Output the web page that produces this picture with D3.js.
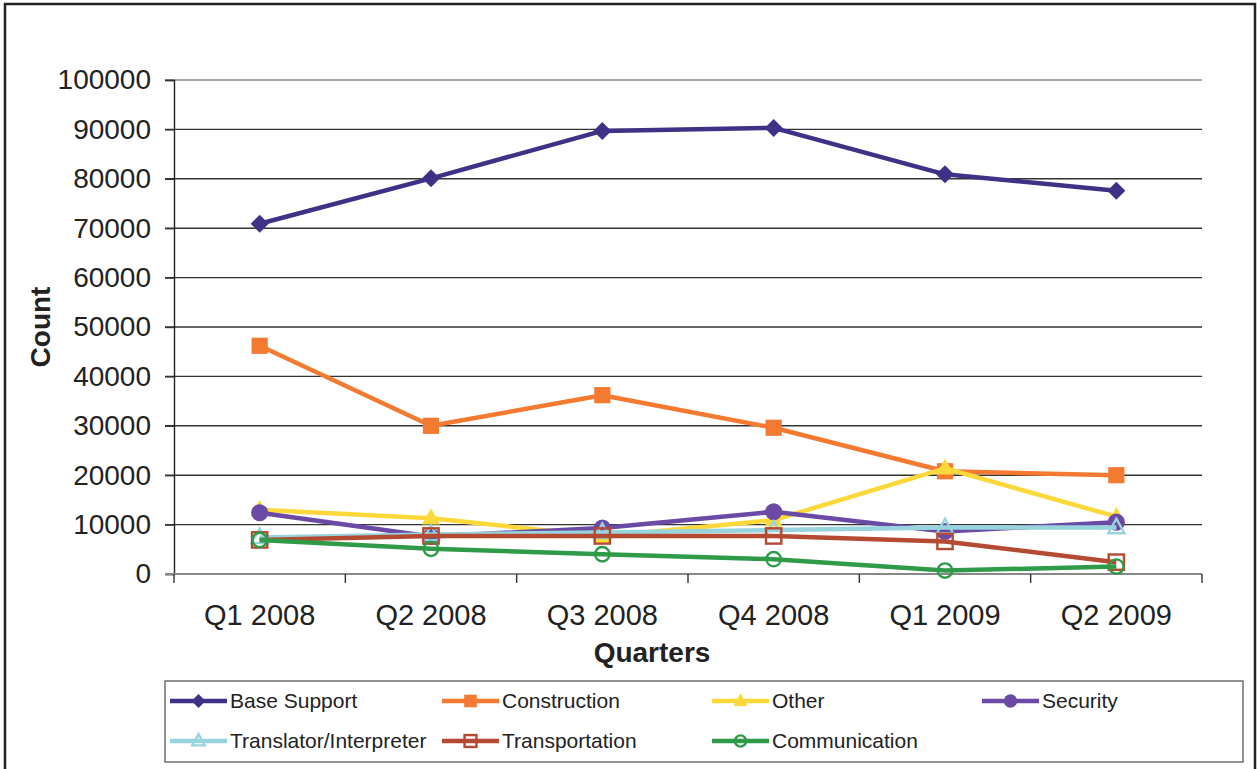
<!DOCTYPE html>
<html><head><meta charset="utf-8">
<script src="https://cdn.jsdelivr.net/npm/d3@7"></script>
<style>body{margin:0;background:#fff;}svg{display:block;font-family:"Liberation Sans",Arial,sans-serif;}</style>
</head><body>
<script>
const categories = ["Q1 2008","Q2 2008","Q3 2008","Q4 2008","Q1 2009","Q2 2009"];
const yTicks = [0,10000,20000,30000,40000,50000,60000,70000,80000,90000,100000];
const baseSupport = [70900, 80100, 89700, 90300, 80900, 77600];
const construction = [46200, 30000, 36200, 29600, 20800, 20000];
const other = [13000, 11300, 7600, 10900, 21400, 11600];
const security = [12400, 7600, 9300, 12600, 8600, 10500];
const translator = [7400, 8000, 8400, 8900, 9400, 9400];
const transportation = [6900, 7700, 7700, 7700, 6600, 2400];
const communication = [6900, 5100, 4000, 3000, 700, 1500];

const series = [
  {name:"Base Support", values:baseSupport, color:"#3e3287", marker:"diamond", fill:true},
  {name:"Construction", values:construction, color:"#f47a32", marker:"square", fill:true},
  {name:"Other", values:other, color:"#fdd83a", marker:"triangle", fill:true},
  {name:"Security", values:security, color:"#6a4aa4", marker:"circle", fill:true},
  {name:"Translator/Interpreter", values:translator, color:"#98d4dd", marker:"triangle", fill:false},
  {name:"Transportation", values:transportation, color:"#b54a33", marker:"square", fill:false},
  {name:"Communication", values:communication, color:"#2f9a48", marker:"circle", fill:false}
];

const W=1257,H=769;
const svg=d3.select("body").append("svg").attr("width",W).attr("height",H);
svg.append("rect").attr("x",5).attr("y",4).attr("width",1250).attr("height",800)
  .attr("fill","none").attr("stroke","#222").attr("stroke-width",2.5);

const pLeft=174,pRight=1202,pTop=80,pBottom=574;
const x=d3.scaleBand().domain(categories).range([pLeft,pRight]);
const y=d3.scaleLinear().domain([0,100000]).range([pBottom,pTop]);

// gridlines
svg.append("g").selectAll("line").data(yTicks.filter(d=>d>0)).join("line")
  .attr("x1",pLeft-9).attr("x2",pRight).attr("y1",d=>y(d)).attr("y2",d=>y(d))
  .attr("stroke",d=>d===100000?"#888":"#333").attr("stroke-width",1.4);

// y axis
const yAxis=svg.append("g").attr("transform",`translate(${pLeft},0)`)
  .call(d3.axisLeft(y).tickValues(yTicks).tickSize(9).tickPadding(14).tickFormat(d3.format("d")));
yAxis.select(".domain").attr("stroke","#222").attr("stroke-width",1.4);
yAxis.selectAll(".tick line").attr("stroke","#333").attr("stroke-width",1.4);
yAxis.selectAll("text").attr("font-size",28).attr("fill","#222");

// x axis
const xAxis=svg.append("g").attr("transform",`translate(0,${pBottom})`)
  .call(d3.axisBottom(x).tickSize(0).tickPadding(30));
xAxis.select(".domain").remove();
xAxis.selectAll("text").attr("font-size",29).attr("fill","#222");
svg.append("line").attr("x1",pLeft-9).attr("x2",pRight).attr("y1",pBottom).attr("y2",pBottom)
  .attr("stroke","#888").attr("stroke-width",2.2);
const bounds=categories.map(c=>x(c)).concat([pRight]);
svg.append("g").selectAll("line").data(bounds).join("line")
  .attr("x1",d=>d).attr("x2",d=>d).attr("y1",pBottom).attr("y2",pBottom+9)
  .attr("stroke","#333").attr("stroke-width",1.4);

svg.append("text").attr("x",652).attr("y",662).attr("text-anchor","middle")
  .attr("font-size",28).attr("font-weight","bold").attr("fill","#222").text("Quarters");
svg.append("text").attr("transform","translate(50,327) rotate(-90)").attr("text-anchor","middle")
  .attr("font-size",28).attr("font-weight","bold").attr("fill","#222").text("Count");

const cx=c=>x(c)+x.bandwidth()/2;
const line=d3.line().x((d,i)=>cx(categories[i])).y(d=>y(d));

function drawMarker(g,type,color,fill,px,py,s){
  const fc=fill?color:"none";
  const sw=fill?0:2.4;
  if(type==="diamond"){
    g.append("path").attr("d",`M${px},${py-s}L${px+s},${py}L${px},${py+s}L${px-s},${py}Z`).attr("fill",color);
  } else if(type==="square"){
    const h=fill?s*0.9:s*0.85;
    g.append("rect").attr("x",px-h).attr("y",py-h).attr("width",2*h).attr("height",2*h)
      .attr("fill",fc).attr("stroke",color).attr("stroke-width",sw);
  } else if(type==="triangle"){
    const h=fill?s:s*0.9;
    g.append("path").attr("d",`M${px},${py-h*1.1}L${px+h},${py+h*0.7}L${px-h},${py+h*0.7}Z`)
      .attr("fill",fc).attr("stroke",color).attr("stroke-width",sw).attr("stroke-linejoin","miter");
  } else {
    g.append("circle").attr("cx",px).attr("cy",py).attr("r",fill?s*0.95:s*0.8)
      .attr("fill",fc).attr("stroke",color).attr("stroke-width",sw);
  }
}

series.forEach(s=>{
  const g=svg.append("g");
  g.append("path").datum(s.values).attr("d",line).attr("fill","none")
    .attr("stroke",s.color).attr("stroke-width",4.5).attr("stroke-linejoin","round");
  s.values.forEach((v,i)=>drawMarker(g,s.marker,s.color,s.fill,cx(categories[i]),y(v),9));
});

// legend
svg.append("rect").attr("x",165).attr("y",681).attr("width",1078).attr("height",81)
  .attr("fill","none").attr("stroke","#666").attr("stroke-width",1.4);
const lx=[170,442,712,982], ly=[701,741];
series.forEach((s,i)=>{
  const px=lx[i%4], py=ly[Math.floor(i/4)];
  const g=svg.append("g");
  g.append("line").attr("x1",px).attr("x2",px+57).attr("y1",py).attr("y2",py)
    .attr("stroke",s.color).attr("stroke-width",4.5);
  drawMarker(g,s.marker,s.color,s.fill,px+28.5,py,7);
  g.append("text").attr("x",px+60).attr("y",py).attr("dy","0.35em")
    .attr("font-size",21).attr("fill","#222").text(s.name);
});
</script>
</body></html>
